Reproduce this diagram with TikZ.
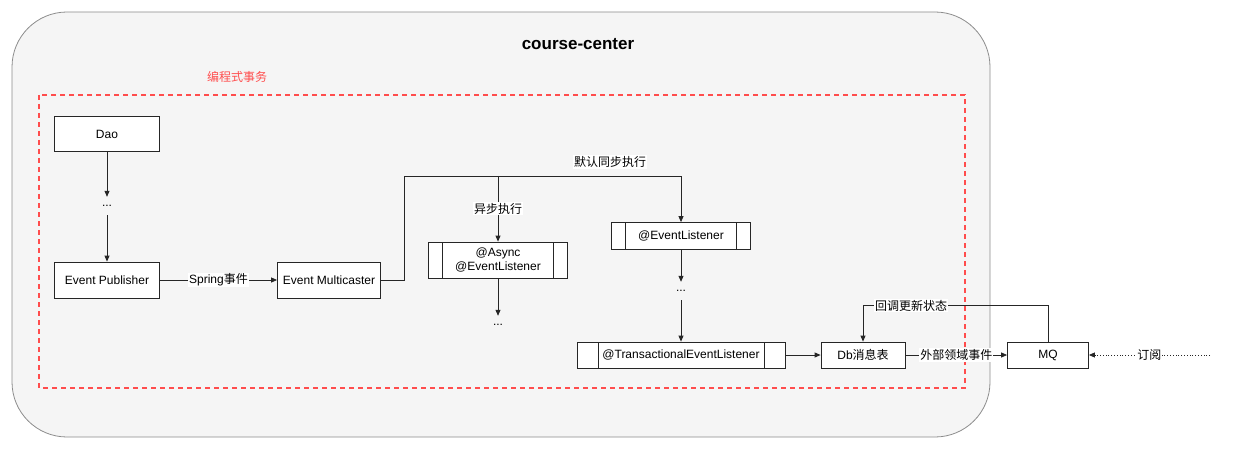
\documentclass[tikz,border=0pt]{standalone}
\usepackage{fontspec}
\setmainfont{Liberation Sans}
\newfontfamily\cjk{Noto Sans CJK SC}
\usetikzlibrary{arrows.meta}
\definecolor{panelgray}{HTML}{F5F5F5}
\definecolor{paneledge}{HTML}{8C8C8C}
\definecolor{txred}{HTML}{FF4D4D}
\newcommand\ccfont{\fontsize{12}{14}\selectfont}

\begin{document}
\begin{tikzpicture}[x=1pt, y=-1pt,
  flowbox/.style = {draw=black!85, fill=white, line width=0.8pt, font=\ccfont, inner sep=0pt},
  listener/.style = {flowbox, path picture={
      \draw[line width=0.8pt] ([xshift=#1]path picture bounding box.north west) -- ([xshift=#1]path picture bounding box.south west);
      \draw[line width=0.8pt] ([xshift=-#1]path picture bounding box.north east) -- ([xshift=-#1]path picture bounding box.south east);}},
  listener/.default = 14pt,
  dotsnode/.style = {inner sep=0pt, minimum height=18pt, font=\ccfont},
  flowarrow/.style = {-{Triangle[length=6pt,width=5pt]}, line width=0.8pt, draw=black!85},
  flowlbl/.style = {fill=white, inner sep=1pt, font=\ccfont}
]
  \useasboundingbox (0,0) rectangle (1233,449);
  % 外框
  \draw[fill=panelgray, draw=paneledge, line width=0.8pt, rounded corners=55pt] (12,12) rectangle (990,437);
  \node[font=\fontsize{17}{20}\selectfont\bfseries] (title) at (578,44) {course-center};
  % 事务范围
  \draw[txred, dash pattern=on 5pt off 4pt, line width=1.4pt] (39,95) rectangle (965,388);
  \node[text=txred, font=\ccfont\cjk] (txlbl) at (237,77) {编程式事务};
  % 节点
  \node[flowbox, minimum width=105pt, minimum height=35pt] (dao) at (107,134) {Dao};
  \node[dotsnode] (dots1) at (107,206) {...};
  \node[flowbox, minimum width=105pt, minimum height=36pt] (pub) at (107,280) {Event Publisher};
  \node[flowbox, minimum width=103pt, minimum height=36pt] (multi) at (329,280) {Event Multicaster};
  \node[listener, minimum width=139pt, minimum height=36pt, align=center] (async) at (498,260) {@Async\\@EventListener};
  \node[dotsnode] (dots2) at (498,325) {...};
  \node[listener, minimum width=139pt, minimum height=27pt] (el) at (681,236) {@EventListener};
  \node[dotsnode] (dots3) at (681,291) {...};
  \node[listener=21pt, minimum width=208pt, minimum height=26pt] (tx) at (681,355) {@TransactionalEventListener};
  \node[flowbox, minimum width=84pt, minimum height=26pt] (db) at (863,355) {Db{\cjk 消息表}};
  \node[flowbox, minimum width=81pt, minimum height=26pt] (mq) at (1048,355) {MQ};
  \coordinate (fork) at (404,176);
  \coordinate (sub) at (1210,355);
  % 连线
  \draw[flowarrow] (dao) -- (dots1);
  \draw[flowarrow] (dots1) -- (pub);
  \draw[flowarrow] (pub) -- node[flowlbl] {Spring{\cjk 事件}} (multi);
  \draw[flowarrow] (multi.east) -| (fork) -| (el.north);
  \node[flowlbl, font=\ccfont\cjk] (synclbl) at (610,162) {默认同步执行};
  \draw[flowarrow] (async.north |- fork) -- node[flowlbl, font=\ccfont\cjk] {异步执行} (async.north);
  \draw[flowarrow] (async) -- (dots2);
  \draw[flowarrow] (el) -- (dots3);
  \draw[flowarrow] (dots3) -- (tx);
  \draw[flowarrow] (tx) -- (db);
  \draw[flowarrow] (db) -- node[flowlbl, font=\ccfont\cjk] {外部领域事件} (mq);
  \draw[flowarrow] (mq.north) -- ++(0,-36) -| node[flowlbl, font=\ccfont\cjk, pos=0.37] {回调更新状态} (db.north);
  \draw[flowarrow, dotted] (sub) -- node[flowlbl, font=\ccfont\cjk] {订阅} (mq);
\end{tikzpicture}
\end{document}
